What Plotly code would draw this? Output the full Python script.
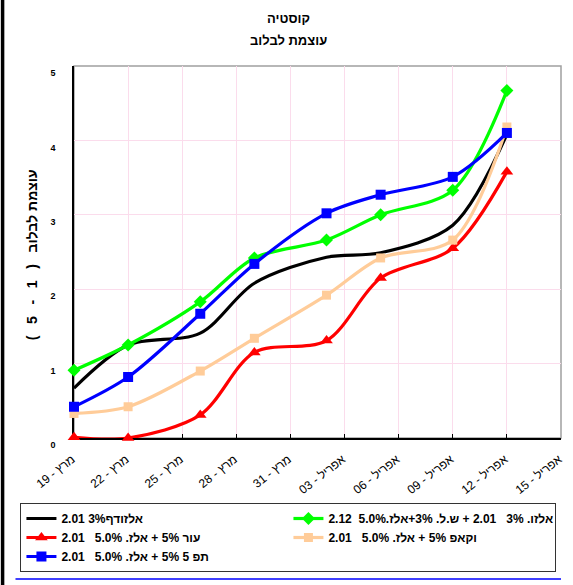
import plotly.graph_objects as go

# ---------------- data ----------------
title_lines = ["קוסטיה", "עוצמת לבלוב"]
y_title = "\u202Bעוצמת לבלוב   (   1   -   5   )\u202C"

dates = ["2008-03-19", "2008-03-22", "2008-03-26", "2008-03-29",
         "2008-04-02", "2008-04-05", "2008-04-09", "2008-04-12"]

tick_dates = ["2008-03-19", "2008-03-22", "2008-03-25", "2008-03-28", "2008-03-31",
              "2008-04-03", "2008-04-06", "2008-04-09", "2008-04-12", "2008-04-15"]
tick_labels = ["מרץ - 19", "מרץ - 22", "מרץ - 25", "מרץ - 28", "מרץ - 31",
               "אפריל - 03", "אפריל - 06", "אפריל - 09", "אפריל - 12", "אפריל - 15"]

names = [
    "אלזודף3% 2.01",
    "אלזו. 3%   2.01 + ש.ל. 3%+אלז.5.0%  2.12",
    "עור 5% + אלז. 5.0%   2.01",
    "וקאפ 5% + אלז. 5.0%   2.01",
    "תפ 5 5% + אלז. 5.0%   2.01",
]

black_vals = [0.67, 1.25, 1.41, 2.08, 2.43, 2.49, 2.86, 4.08]
green_vals = [0.91, 1.25, 1.83, 2.42, 2.66, 3.00, 3.33, 4.67]
red_vals = [0.01, 0.00, 0.31, 1.15, 1.31, 2.15, 2.55, 3.58]
peach_vals = [0.33, 0.42, 0.90, 1.34, 1.92, 2.42, 2.66, 4.18]
blue_vals = [0.42, 0.82, 1.67, 2.34, 3.02, 3.27, 3.51, 4.10]

# ---------------- styles ----------------
W, H = 573, 585
L, R, T, B = 74, 8, 66, 147
PW, PH = W - L - R, H - T - B

def px_x(px):
    return (px - L) / PW

def px_y(py):
    return (H - B - py) / PH

FONT = "Liberation Sans, Arial, sans-serif"
GRID = "#fbdcec"

series = [
    (black_vals, "#000000", None, 0),
    (green_vals, "#00ff00", "diamond", 10),
    (red_vals, "#ff0000", "triangle-up", 11),
    (peach_vals, "#ffcc99", "square", 9),
    (blue_vals, "#0000ff", "square", 10),
]

fig = go.Figure()
for (vals, color, sym, size), name in zip(series, names):
    mode = "lines" if sym is None else "lines+markers"
    fig.add_trace(go.Scatter(
        x=dates, y=vals, name=name, mode=mode, cliponaxis=False,
        line=dict(color=color, width=3.2, shape="spline", smoothing=0.9),
        marker=dict(symbol=sym or "circle", size=size, color=color),
    ))

fig.update_layout(
    width=W, height=H,
    margin=dict(l=L, r=R, t=T, b=B),
    paper_bgcolor="white", plot_bgcolor="white",
    font=dict(family=FONT, size=11, color="#000000"),
    showlegend=True,
    legend=dict(
        orientation="h",
        x=px_x(20), xanchor="left",
        y=px_y(503), yanchor="top",
        bordercolor="#333333", borderwidth=1, bgcolor="white",
        font=dict(family=FONT, size=12, color="#000000", weight="bold"),
        entrywidthmode="pixels", entrywidth=222,
        traceorder="normal",
        itemwidth=30,
    ),
    xaxis=dict(
        type="date",
        range=[tick_dates[0], tick_dates[-1]],
        tickvals=tick_dates, ticktext=tick_labels,
        tickangle=-38,
        tickfont=dict(family=FONT, size=12, color="#000000"),
        showgrid=True, gridcolor=GRID, gridwidth=1,
        showline=True, linecolor="#000000", linewidth=1.5,
        ticks="inside", ticklen=4, tickcolor="#000000",
        zeroline=False, layer="below traces",
        ticklabelstandoff=8, ticklabelshift=-2,
        ticklabeloverflow="allow",
    ),
    yaxis=dict(
        range=[0, 5], dtick=1,
        tickfont=dict(family=FONT, size=9, color="#000000", weight="bold"),
        showgrid=True, gridcolor=GRID, gridwidth=1,
        showline=True, linecolor="#000000", linewidth=1.5,
        ticks="", zeroline=False, layer="below traces",
        ticklabelstandoff=15, ticklabelshift=7,
    ),
)

# plot frame (top/right grey)
fig.add_shape(type="rect", xref="paper", yref="paper", x0=0, x1=1, y0=0, y1=1,
              line=dict(color="#a0a0a0", width=1.5), layer="below")
# page left border
fig.add_shape(type="line", xref="paper", yref="paper",
              x0=px_x(2), x1=px_x(2), y0=px_y(0), y1=px_y(H),
              line=dict(color="#000000", width=3.5))
# bottom blue rule
fig.add_shape(type="line", xref="paper", yref="paper",
              x0=px_x(15), x1=px_x(565), y0=px_y(579), y1=px_y(579),
              line=dict(color="#0000ff", width=1.5))

# titles
fig.add_annotation(text="<b>%s</b>" % title_lines[0], xref="paper", yref="paper",
                   x=px_x(290), y=px_y(19), showarrow=False,
                   xanchor="center", yanchor="middle",
                   font=dict(family=FONT, size=13, color="#000000"))
fig.add_annotation(text="<b>%s</b>" % title_lines[1], xref="paper", yref="paper",
                   x=px_x(290), y=px_y(40), showarrow=False,
                   xanchor="center", yanchor="middle",
                   font=dict(family=FONT, size=13, color="#000000"))
fig.add_annotation(text="<b>%s</b>" % y_title, xref="paper", yref="paper",
                   x=px_x(32), y=px_y(255), showarrow=False, textangle=-90,
                   xanchor="center", yanchor="middle",
                   font=dict(family=FONT, size=14, color="#000000"))

fig.write_html("out.html", config={"displayModeBar": False},
               post_script="document.body.style.margin='0';")
